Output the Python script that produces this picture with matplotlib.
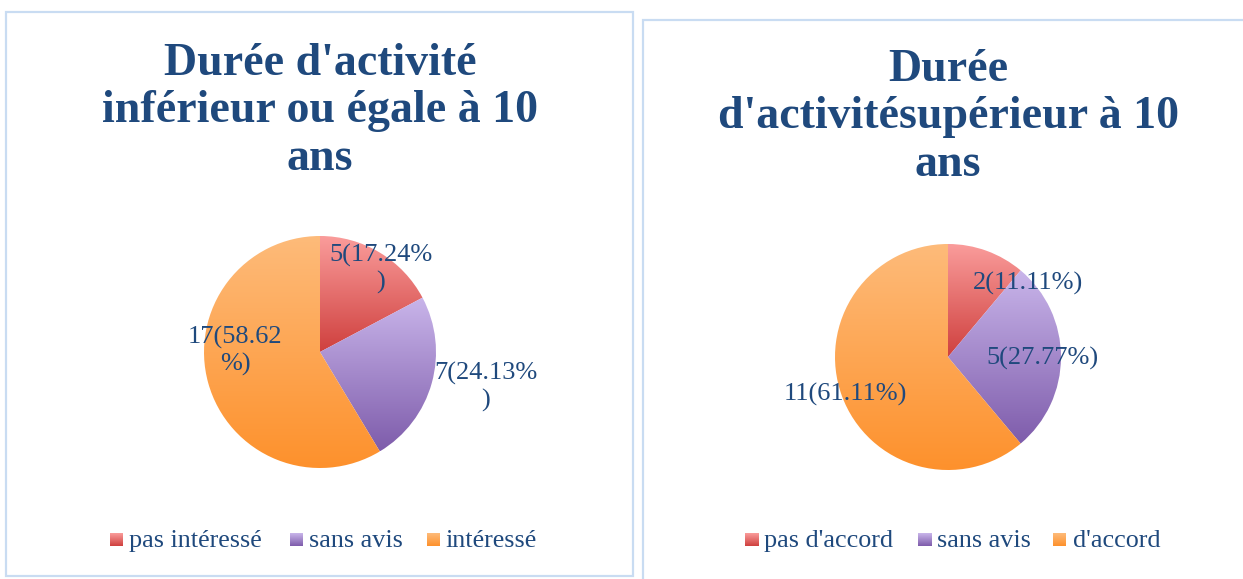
import numpy as np
import matplotlib
matplotlib.use("Agg")
import matplotlib.pyplot as plt
from matplotlib.patches import Rectangle
from matplotlib.colors import LinearSegmentedColormap

# ---- data -------------------------------------------------------------
left_title = "Durée d'activité\ninférieur ou égale à 10\nans"
left_categories = ["pas intéressé", "sans avis", "intéressé"]
left_counts = [5, 7, 17]
left_percents = ["17.24", "24.13", "58.62"]

right_title = "Durée\nd'activitésupérieur à 10\nans"
right_categories = ["pas d'accord", "sans avis", "d'accord"]
right_counts = [2, 5, 11]
right_percents = ["11.11", "27.77", "61.11"]

# ---- style ------------------------------------------------------------
W, H = 1243, 579
TEXT = "#1F497D"
BORDER = "#C9DCF2"
SERIF = ["Liberation Serif", "DejaVu Serif"]
GRADIENTS = [("#FA9C9B", "#CF403E"),   # red
             ("#C9B5EA", "#7E5CAB"),   # purple
             ("#FDBB7A", "#FE912C")]   # orange

fig = plt.figure(figsize=(W / 100, H / 100), dpi=100)
fig.patch.set_facecolor("white")


def px_box(x0, y0, w, h):
    """Convert a top-left pixel box into figure fractions."""
    return [x0 / W, 1 - (y0 + h) / H, w / W, h / H]


def gradient_cmap(top, bottom):
    return LinearSegmentedColormap.from_list("g", [bottom, top])


def fill_gradient(ax, patch, top, bottom):
    path = patch.get_path().transformed(patch.get_patch_transform())
    ext = path.get_extents()
    grad = np.linspace(0, 1, 256).reshape(-1, 1)
    im = ax.imshow(grad, cmap=gradient_cmap(top, bottom), origin="lower",
                   extent=[ext.x0, ext.x1, ext.y0, ext.y1], aspect="auto",
                   zorder=patch.get_zorder(), interpolation="bilinear")
    im.set_clip_path(patch)


def draw_panel(frame_box, title, title_y, cats, counts, percents, pie_box,
               label_pos, label_text, legend_items):
    # panel frame
    fx, fy, fw, fh = frame_box
    fig.patches.append(Rectangle((fx / W, 1 - (fy + fh) / H), fw / W, fh / H,
                                 transform=fig.transFigure, fill=False,
                                 edgecolor=BORDER, linewidth=1.6))
    # title, centred above the pie
    cx = pie_box[0] + pie_box[2] / 2
    fig.text(cx / W, 1 - title_y / H, title, ha="center", va="top",
             fontsize=33, fontweight="bold", color=TEXT, family=SERIF,
             linespacing=1.17)

    # pie
    ax = fig.add_axes(px_box(*pie_box))
    wedges, _ = ax.pie(counts, startangle=90, counterclock=False, radius=1,
                       wedgeprops=dict(linewidth=0))
    for w, (top, bottom) in zip(wedges, GRADIENTS):
        w.set_facecolor("none")
        fill_gradient(ax, w, top, bottom)
    ax.set_xlim(-1, 1)
    ax.set_ylim(-1, 1)
    ax.set_aspect("equal")
    ax.axis("off")

    # data labels
    for (lx, ly), txt in zip(label_pos, label_text):
        fig.text(lx / W, 1 - ly / H, txt, ha="center", va="center",
                 fontsize=19, color=TEXT, family=SERIF, linespacing=1.2)

    # legend
    for (sx, tx), cat, (top, bottom) in zip(legend_items, cats, GRADIENTS):
        lax = fig.add_axes(px_box(sx, 533, 13, 13))
        lax.imshow(np.linspace(0, 1, 64).reshape(-1, 1), origin="lower",
                   cmap=gradient_cmap(top, bottom), aspect="auto",
                   extent=[0, 1, 0, 1])
        lax.axis("off")
        fig.text(tx / W, 1 - 541 / H, cat, ha="left", va="center",
                 fontsize=18.8, color=TEXT, family=SERIF)


def fmt(counts, percents):
    return [f"{c}({p}%)" for c, p in zip(counts, percents)]


# left chart: long labels wrap onto a second line
lt = fmt(left_counts, left_percents)
left_labels = [lt[0][:-1] + "\n)", lt[1][:-1] + "\n)",
               lt[2][:-2] + "\n%)"]
draw_panel((6, 12, 627, 564), left_title, 43, left_categories, left_counts,
           left_percents, (204, 236, 232, 232),
           [(381, 269), (486, 387), (235, 351)], left_labels,
           [(110, 129), (290, 309), (427, 445)])

draw_panel((643, 20, 620, 580), right_title, 49, right_categories,
           right_counts, right_percents, (835, 244, 226, 226),
           [(1028, 283), (1042, 358), (845, 394)],
           fmt(right_counts, right_percents),
           [(745, 764), (918, 937), (1053, 1073)])

fig.savefig("out.png", dpi=100, facecolor="white")
